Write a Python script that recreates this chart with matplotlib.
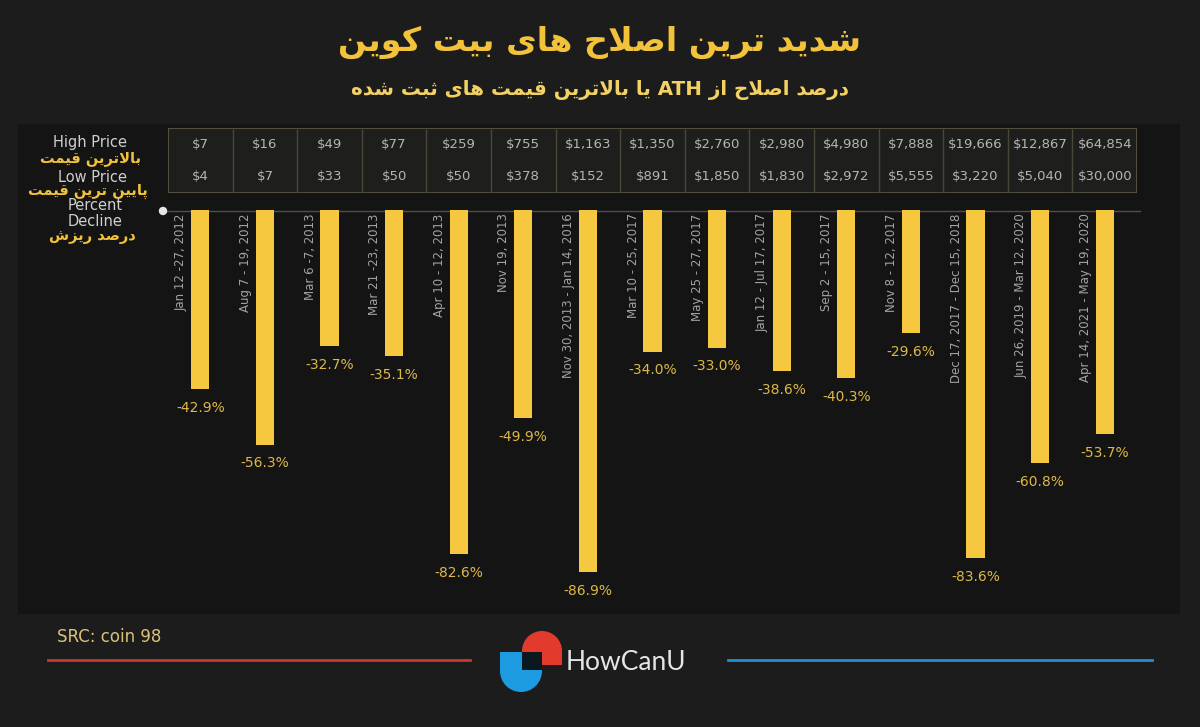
import re
import matplotlib
matplotlib.use("Agg")
import matplotlib.pyplot as plt
from matplotlib.patches import Rectangle, Wedge, Circle

plt.rcParams['font.family'] = ['DejaVu Sans']

# --- data -------------------------------------------------------------
periods = ["Jan 12 -27, 2012", "Aug 7 - 19, 2012", "Mar 6 -7, 2013", "Mar 21 -23, 2013",
           "Apr 10 - 12, 2013", "Nov 19, 2013", "Nov 30, 2013 - Jan 14, 2016",
           "Mar 10 - 25, 2017", "May 25 - 27, 2017", "Jan 12 - Jul 17, 2017",
           "Sep 2 - 15, 2017", "Nov 8 - 12, 2017", "Dec 17, 2017 - Dec 15, 2018",
           "Jun 26, 2019 - Mar 12, 2020", "Apr 14, 2021 - May 19, 2020"]
high_price = ["$7", "$16", "$49", "$77", "$259", "$755", "$1,163", "$1,350", "$2,760",
              "$2,980", "$4,980", "$7,888", "$19,666", "$12,867", "$64,854"]
low_price = ["$4", "$7", "$33", "$50", "$50", "$378", "$152", "$891", "$1,850",
             "$1,830", "$2,972", "$5,555", "$3,220", "$5,040", "$30,000"]
decline = [-42.9, -56.3, -32.7, -35.1, -82.6, -49.9, -86.9, -34.0, -33.0,
           -38.6, -40.3, -29.6, -83.6, -60.8, -53.7]

title = "شدید ترین اصلاح های بیت کوین"
subtitle = "درصد اصلاح از ATH یا بالاترین قیمت های ثبت شده"

# --- tiny persian shaper (matplotlib has no text shaping) --------------
FORMS = {
    'ا': (0xFE8D, 0xFE8E, None, None), 'ب': (0xFE8F, 0xFE90, 0xFE91, 0xFE92),
    'ت': (0xFE95, 0xFE96, 0xFE97, 0xFE98), 'ث': (0xFE99, 0xFE9A, 0xFE9B, 0xFE9C),
    'ح': (0xFEA1, 0xFEA2, 0xFEA3, 0xFEA4), 'د': (0xFEA9, 0xFEAA, None, None),
    'ر': (0xFEAD, 0xFEAE, None, None), 'ز': (0xFEAF, 0xFEB0, None, None),
    'ش': (0xFEB5, 0xFEB6, 0xFEB7, 0xFEB8), 'ص': (0xFEB9, 0xFEBA, 0xFEBB, 0xFEBC),
    'ق': (0xFED5, 0xFED6, 0xFED7, 0xFED8), 'ل': (0xFEDD, 0xFEDE, 0xFEDF, 0xFEE0),
    'م': (0xFEE1, 0xFEE2, 0xFEE3, 0xFEE4), 'ن': (0xFEE5, 0xFEE6, 0xFEE7, 0xFEE8),
    'ه': (0xFEE9, 0xFEEA, 0xFEEB, 0xFEEC), 'و': (0xFEED, 0xFEEE, None, None),
    'ی': (0xFBFC, 0xFBFD, 0xFBFE, 0xFBFF), 'ک': (0xFB8E, 0xFB8F, 0xFB90, 0xFB91),
    'پ': (0xFB56, 0xFB57, 0xFB58, 0xFB59),
}


def dual(c):
    return c in FORMS and FORMS[c][2] is not None


def fa(text):
    out = []
    n = len(text)
    i = 0
    while i < n:
        c = text[i]
        if c not in FORMS:
            out.append(c)
            i += 1
            continue
        join_prev = i > 0 and dual(text[i - 1])
        if c == 'ل' and i + 1 < n and text[i + 1] == 'ا':
            out.append(chr(0xFEFC if join_prev else 0xFEFB))
            i += 2
            continue
        join_next = dual(c) and i + 1 < n and text[i + 1] in FORMS
        iso, fin, ini, med = FORMS[c]
        if join_prev and join_next:
            g = med
        elif join_prev:
            g = fin
        elif join_next:
            g = ini
        else:
            g = iso
        out.append(chr(g))
        i += 1
    s = ''.join(out)[::-1]
    return re.sub(r'[A-Za-z0-9$%.,]+', lambda m: m.group(0)[::-1], s)


# --- figure -------------------------------------------------------------
fig = plt.figure(figsize=(12, 7.27), dpi=100, facecolor='#1c1c1c')
W, H = 1200, 727

bg = fig.add_axes([0, 0, 1, 1])
bg.set_xlim(0, W)
bg.set_ylim(H, 0)
bg.axis('off')

gold = '#f2c23a'
bg.add_patch(Rectangle((18, 124), 1162, 490, facecolor='#141414', edgecolor='none'))

bg.text(600, 42, fa(title), color=gold, fontsize=24, fontweight='bold',
        ha='center', va='center')
bg.text(600, 90, fa(subtitle), color='#f3d163', fontsize=14.3, fontweight='bold',
        ha='center', va='center')

# row captions on the left
lab_c = '#cfcfcf'
bg.text(90, 143, "High Price", color=lab_c, fontsize=10.5, ha='center', va='center')
bg.text(90, 159, fa("بالاترین قیمت"), color=gold, fontsize=10.5, fontweight='bold',
        ha='center', va='center')
bg.text(92, 177, "Low Price", color=lab_c, fontsize=10.5, ha='center', va='center')
bg.text(88, 191, fa("پایین ترین قیمت"), color=gold, fontsize=10.5, fontweight='bold',
        ha='center', va='center')
bg.text(95, 205, "Percent", color=lab_c, fontsize=10.5, ha='center', va='center')
bg.text(95, 221, "Decline", color=lab_c, fontsize=10.5, ha='center', va='center')
bg.text(92, 236, fa("درصد ریزش"), color=gold, fontsize=10.5, fontweight='bold',
        ha='center', va='center')

bg.plot([163, 1140], [211, 211], color='#4d4d4d', lw=1)
bg.add_patch(Circle((163, 211), 3.5, color='#e6e6e6', zorder=3))

# footer
bg.text(57, 637, "SRC: coin 98", color='#d9c27a', fontsize=12, ha='left', va='center')
bg.plot([48, 470], [660, 660], color='#c8392e', lw=2)
bg.plot([728, 1152], [660, 660], color='#1f8fd2', lw=2)
# logo (y axis inverted: angles 0-180 point down the page)
bg.add_patch(Rectangle((500, 652), 42, 20, facecolor='#1d9be0', edgecolor='none'))
bg.add_patch(Wedge((521, 671), 21, 0, 180, facecolor='#1d9be0', edgecolor='none'))
bg.add_patch(Rectangle((522, 650), 40, 15, facecolor='#e23b2e', edgecolor='none'))
bg.add_patch(Wedge((542, 651), 20, 180, 360, facecolor='#e23b2e', edgecolor='none'))
bg.add_patch(Rectangle((522, 652), 20, 18, facecolor='#0b1820', edgecolor='none'))
bg.text(566, 662, "HowCanU", color='#e6e6e6', fontsize=19, family=['Lato', 'DejaVu Sans'],
        ha='left', va='center')

# --- price table ----------------------------------------------------------
n = len(decline)
xs = list(range(n))
tab = fig.add_axes([168 / W, 1 - 193 / H, 969 / W, 65 / H])
tab.set_xlim(-0.5, n - 0.5)
tab.set_ylim(1, 0)
tab.axis('off')
tab.add_patch(Rectangle((-0.5, 0), n, 1, facecolor='#1e1e1d', edgecolor='#5f5a44', lw=1.2))
tab.vlines([x + 0.5 for x in xs[:-1]], 0.02, 0.98, color='#4a4739', lw=1)
for x, hp, lp in zip(xs, high_price, low_price):
    tab.text(x, 0.26, hp, color='#b5b5b5', fontsize=9.5, ha='center', va='center')
    tab.text(x, 0.74, lp, color='#b5b5b5', fontsize=9.5, ha='center', va='center')

# --- bars -------------------------------------------------------------------
ax = fig.add_axes([168 / W, 1 - 610 / H, 969 / W, 400 / H])
ax.patch.set_alpha(0)
ax.bar(xs, decline, width=0.28, color='#f6c83f', edgecolor='none')
ax.set_xlim(-0.5, n - 0.5)
ax.set_ylim(-96, 0)
ax.axis('off')

for x, v, p in zip(xs, decline, periods):
    ax.text(x - 0.30, -0.8, p, rotation=90, color='#a3a3a3', fontsize=8.5,
            ha='center', va='top')
    ax.text(x, v - 4.5, f"{v:.1f}%", color='#dcb849', fontsize=10,
            ha='center', va='center')

fig.savefig("out.png", dpi=100, facecolor=fig.get_facecolor())
